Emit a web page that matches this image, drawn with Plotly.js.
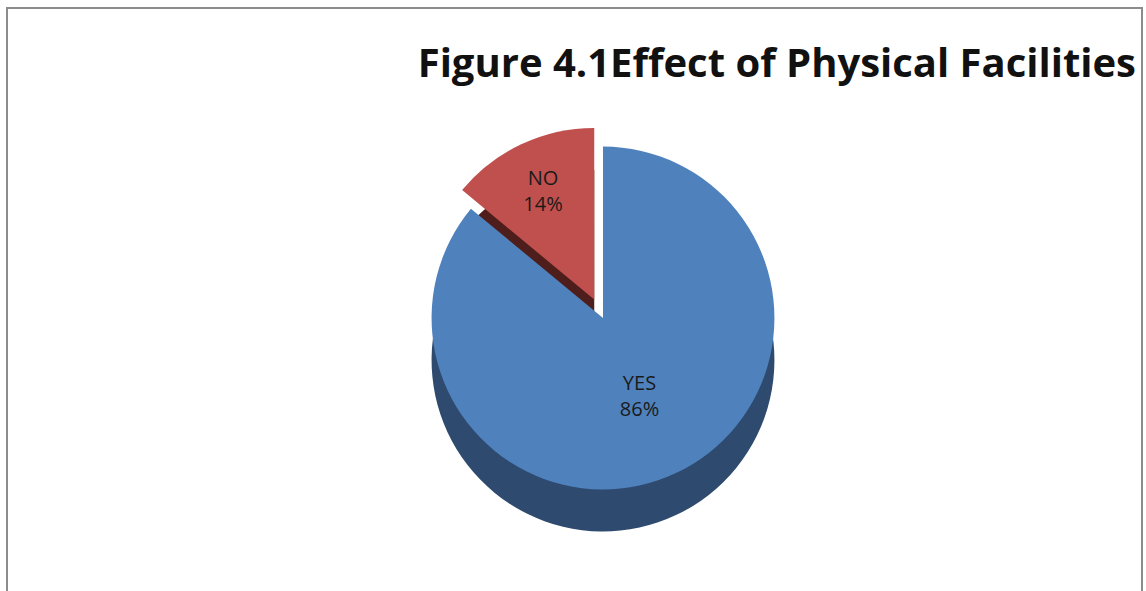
<!DOCTYPE html>
<html>
<head>
<meta charset="utf-8">
<script src="https://cdn.plot.ly/plotly-3.0.1.min.js"></script>
<style>html,body{margin:0;padding:0;background:#fff;}#chart{width:1146px;height:591px;}</style>
</head>
<body>
<div id="chart"></div>
<script>
const categories = ["NO", "YES"];
const values = [14, 86];
const colors = ["#C0504D", "#4F81BD"];
const sideColors = ["#4E1E1C", "#2E4A6E"];
const pulls = [0.12, 0];
const titleText = "Figure 4.1Effect of Physical Facilities";

const W = 1146, H = 591;
const cx = 603, cy = 318, R = 192, depth = 42;

function dom(centerY) {
  return {x: [(cx - R) / W, (cx + R) / W], y: [(H - centerY - R) / H, (H - centerY + R) / H]};
}

const basePie = {
  type: "pie",
  labels: categories,
  values: values,
  sort: false,
  direction: "clockwise",
  rotation: -50.4,
  pull: pulls,
  showlegend: false
};

const sideTrace = Object.assign({}, basePie, {
  marker: {colors: sideColors, line: {color: "rgba(0,0,0,0)", width: 0}},
  textinfo: "none",
  hoverinfo: "skip",
  domain: dom(cy + depth)
});

const topTrace = Object.assign({}, basePie, {
  marker: {colors: colors, line: {color: "rgba(0,0,0,0)", width: 0}},
  textinfo: "label+percent",
  texttemplate: "%{label}<br>%{percent:.0%}",
  textposition: "inside",
  insidetextorientation: "horizontal",
  textfont: {family: "Open Sans, Liberation Sans, sans-serif", size: 20, color: "#1a1a1a"},
  hoverinfo: "label+percent",
  domain: dom(cy)
});

const layout = {
  width: W, height: H,
  margin: {l: 0, r: 0, t: 0, b: 0},
  paper_bgcolor: "#ffffff",
  title: {
    text: "<b>" + titleText + "</b>",
    x: 1136 / W, xanchor: "right", xref: "paper",
    y: 1 - 63 / H, yanchor: "middle", yref: "container",
    font: {family: "Open Sans, Liberation Sans, sans-serif", size: 40, color: "#111111"}
  },
  shapes: [{
    type: "rect", xref: "paper", yref: "paper",
    x0: 7 / W, x1: 1142 / W, y0: -0.05, y1: 1 - 8 / H,
    line: {color: "#8c8c8c", width: 2}
  }]
};

Plotly.newPlot("chart", [sideTrace, topTrace], layout, {displayModeBar: false, staticPlot: true});
</script>
</body>
</html>
